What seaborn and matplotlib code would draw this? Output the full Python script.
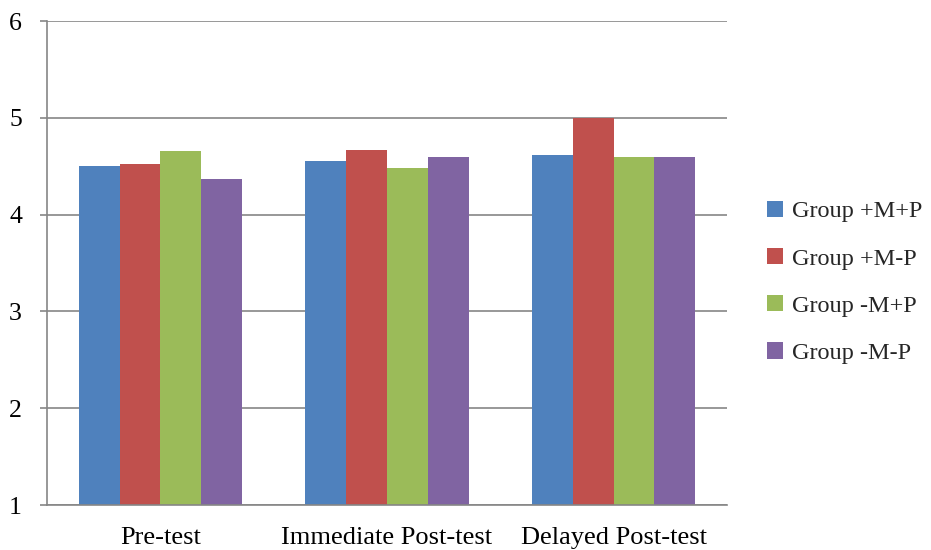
import matplotlib
matplotlib.use("Agg")
import matplotlib.pyplot as plt
import seaborn as sns
import pandas as pd

# Mean scores per test phase and group
phases = ["Pre-test", "Immediate Post-test", "Delayed Post-test"]
groups = ["Group +M+P", "Group +M-P", "Group -M+P", "Group -M-P"]
scores_pmpp = [4.50, 4.55, 4.62]
scores_pmmp = [4.52, 4.67, 5.00]
scores_mmpp = [4.66, 4.48, 4.59]
scores_mmmp = [4.37, 4.60, 4.60]
y_ticks = [1, 2, 3, 4, 5, 6]

colors = ["#4F81BD", "#C0504D", "#9BBB59", "#8064A2"]

rows = []
for g, vals in zip(groups, [scores_pmpp, scores_pmmp, scores_mmpp, scores_mmmp]):
    for p, v in zip(phases, vals):
        rows.append({"phase": p, "group": g, "score": v})
df = pd.DataFrame(rows)

sns.set_theme(style="white")
plt.rcParams["font.family"] = ["Liberation Serif", "DejaVu Serif"]

fig = plt.figure(figsize=(9.31, 5.5), dpi=100)
ax = fig.add_axes([47 / 931, 45 / 550, 680 / 931, 484 / 550])

sns.barplot(data=df, x="phase", y="score", hue="group", order=phases,
            hue_order=groups, palette=colors, width=0.72, gap=0,
            saturation=1, ax=ax, legend=True, edgecolor="none")

ax.set_ylim(1, 6)
ax.set_xlim(-0.5, 2.5)
ax.set_yticks(y_ticks)
ax.set_yticklabels([str(t) for t in y_ticks])
ax.yaxis.grid(True, color="#868686", linewidth=1.2)
ax.set_axisbelow(True)
ax.set_xlabel("")
ax.set_ylabel("")

for side in ["top", "right"]:
    ax.spines[side].set_visible(False)
for side in ["left", "bottom"]:
    ax.spines[side].set_color("#868686")
    ax.spines[side].set_linewidth(1.2)

# Category tick marks at the boundaries between phases
ax.set_xticks([-0.5, 0.5, 1.5, 2.5], minor=True)
ax.tick_params(axis="x", which="major", length=0, labelsize=19, pad=16, colors="black")
ax.tick_params(axis="x", which="minor", length=6, width=1.2, color="#868686", direction="out")
ax.tick_params(axis="y", length=5, width=1.2, color="#868686", direction="out",
               labelsize=18.5, pad=13, labelcolor="black", left=True)

leg = ax.legend(loc="center left", bbox_to_anchor=(1.027, 0.46),
                frameon=False, fontsize=17.5, handlelength=0.65, handleheight=0.65,
                handletextpad=0.35, labelspacing=1.05)

fig.savefig("out.png", dpi=100)
